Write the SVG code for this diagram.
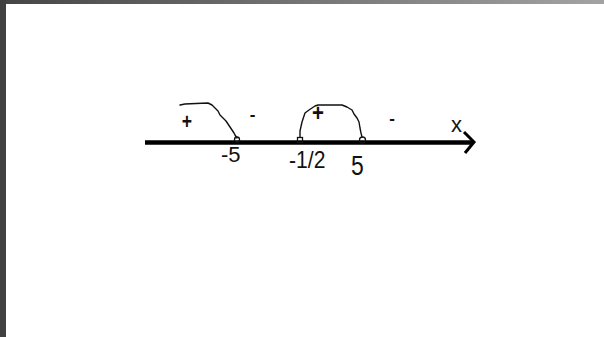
<svg xmlns="http://www.w3.org/2000/svg" width="604" height="337" viewBox="0 0 604 337">
<defs>
<linearGradient id="topband" x1="0" y1="0" x2="1" y2="0">
<stop offset="0" stop-color="#454545"/>
<stop offset="1" stop-color="#a3a3a3"/>
</linearGradient>
</defs>
<style>
.lbl{font-family:"Liberation Sans",Arial,sans-serif;fill:#111}
.sign{font-family:"Liberation Sans",Arial,sans-serif;fill:#111;font-weight:bold;text-anchor:middle}
.curve{fill:none;stroke:#111;stroke-width:1.4;stroke-linejoin:round;stroke-linecap:round}
.mark{fill:none;stroke:#111;stroke-width:1.3}
</style>
<rect x="0" y="0" width="604" height="337" fill="#fff"/>
<rect x="0" y="0" width="604" height="4" fill="url(#topband)"/>
<rect x="0" y="0" width="6" height="337" fill="#414141"/>
<g id="axis">
<line x1="145" y1="142.5" x2="472" y2="142.5" stroke="#000" stroke-width="4.5"/>
<polyline points="464,132 474,142 465,153" fill="none" stroke="#000" stroke-width="3"/>
<text class="lbl" x="451" y="132" font-size="22" fill="#333">x</text>
</g>
<g id="connectors">
<polyline class="curve" points="180,105 185,104 196,103.5 208,103 212,105 215,108 218,111 220,115 223,118 226,121 228,124 230,127 232,130 234,133 235,135 237,138"/>
<polyline class="curve" points="300,137 300,131 302,122 304,116 305,113 309,110 312,108 315,106 318,105 330,105 342,105 347,107 352,110 354,114 357,118 359,122 360,128 361,133 362,137"/>
</g>
<g id="marks">
<circle class="mark" cx="237" cy="139.5" r="2.5"/>
<rect class="mark" x="297.5" y="137.5" width="5" height="5"/>
<circle class="mark" cx="362.5" cy="140" r="3"/>
</g>
<g id="signs">
<text class="sign" x="187" y="129.5" font-size="22" transform="translate(187 0) scale(0.8 1) translate(-187 0)">+</text>
<text class="sign" x="252.5" y="120" font-size="17">-</text>
<text class="sign" x="318" y="121.5" font-size="24" transform="translate(318 0) scale(0.85 1) translate(-318 0)">+</text>
<text class="sign" x="392" y="123.5" font-size="17">-</text>
</g>
<g id="ticks">
<text class="lbl" x="221" y="162" font-size="22">-5</text>
<text class="lbl" x="289" y="168" font-size="23" transform="translate(289 0) scale(0.92 1) translate(-289 0)">-1/2</text>
<text class="lbl" x="351" y="175" font-size="27" transform="translate(351 0) scale(0.85 1) translate(-351 0)">5</text>
</g>
</svg>
